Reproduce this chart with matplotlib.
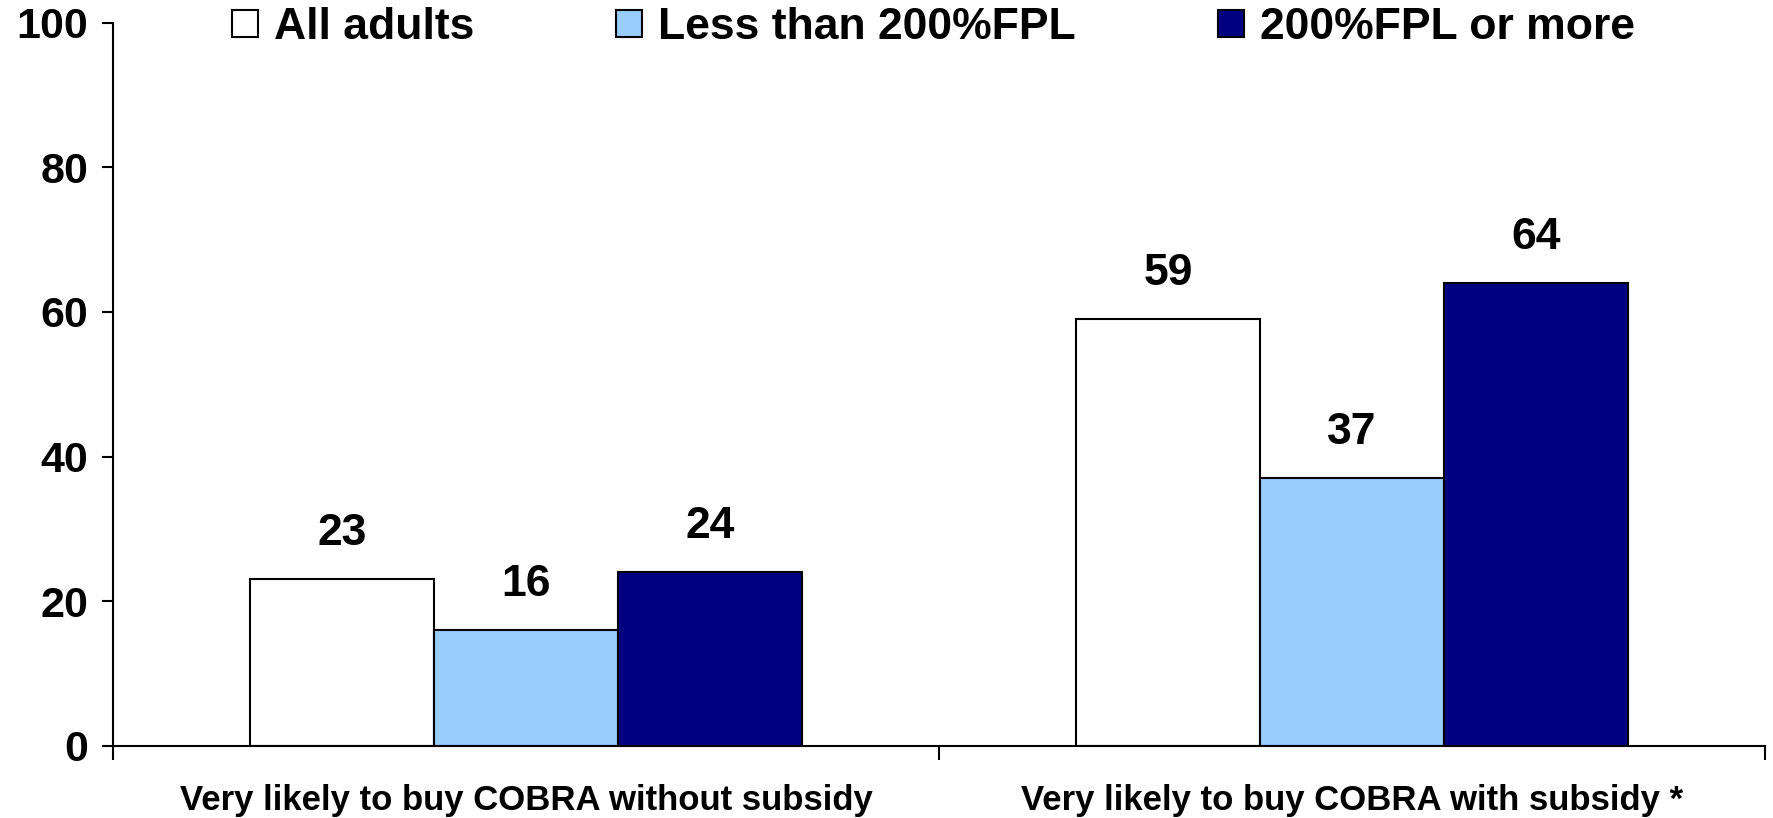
import numpy as np
import matplotlib
matplotlib.use('Agg')
import matplotlib.pyplot as plt

plt.rcParams['font.family'] = ['Liberation Sans', 'DejaVu Sans']
plt.rcParams['font.weight'] = 'bold'

categories = ['Very likely to buy COBRA without subsidy', 'Very likely to buy COBRA with subsidy *']
series_names = ['All adults', 'Less than 200%FPL', '200%FPL or more']
all_adults = [23, 59]
less_200 = [16, 37]
more_200 = [24, 64]
colors = ['#FFFFFF', '#99CCFF', '#000080']

fig = plt.figure(figsize=(17.74, 8.18), dpi=100)
ax = fig.add_axes([0.0637, 0.0885, 0.9313, 0.8835])

x = np.arange(len(categories))
width = 0.223
values = [all_adults, less_200, more_200]
for i, (name, vals) in enumerate(zip(series_names, values)):
    bars = ax.bar(x + (i - 1) * width, vals, width, color=colors[i],
                  edgecolor='black', linewidth=1.5, label=name)
    for b, v in zip(bars, vals):
        # value label above each bar
        ax.annotate(str(v), (b.get_x() + b.get_width() / 2, v),
                    xytext=(0, 18), textcoords='offset points',
                    ha='center', va='bottom', fontsize=32, fontweight='bold')

ax.set_xlim(-0.5, 1.5)
ax.set_ylim(0, 100)
ax.set_yticks(range(0, 101, 20))
ax.tick_params(axis='y', labelsize=31, length=8, width=1.5, pad=10)
ax.set_xticks(x)
ax.set_xticklabels(categories, fontsize=25, fontweight='bold')
ax.set_xticks([-0.5, 0.5, 1.5], minor=True)  # ticks between groups
ax.tick_params(axis='x', which='major', length=0, pad=28)
ax.tick_params(axis='x', which='minor', length=10, width=1.5)
for lab in ax.get_yticklabels():
    lab.set_fontweight('bold')

ax.spines['top'].set_visible(False)
ax.spines['right'].set_visible(False)
ax.spines['left'].set_linewidth(1.5)
ax.spines['bottom'].set_linewidth(1.5)

fig.legend(loc='center', bbox_to_anchor=(0.526, 0.966), ncol=3, frameon=False,
           handlelength=0.58, handleheight=0.58, handletextpad=0.36,
           columnspacing=3.2, prop={'size': 32, 'weight': 'bold'})

fig.savefig('out.png', dpi=100)
